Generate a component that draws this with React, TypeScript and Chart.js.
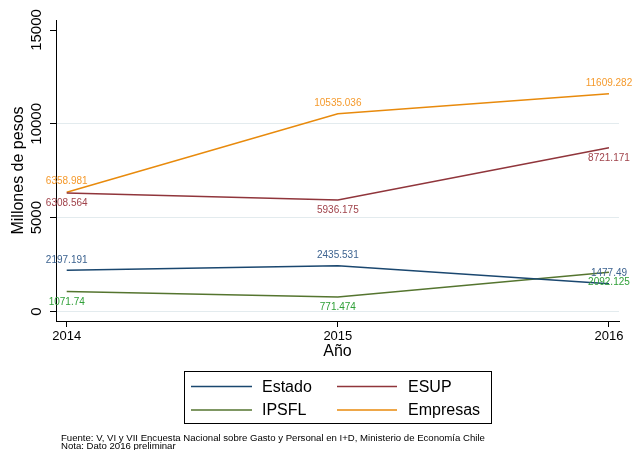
import React, { useEffect, useRef } from "react";
import { Chart, registerables } from "chart.js";

Chart.register(...registerables);

const years = [2014, 2015, 2016];
const estado = [2197.191, 2435.531, 1477.49];
const esup = [6308.564, 5936.175, 8721.171];
const ipsfl = [1071.74, 771.474, 2092.125];
const empresas = [6358.981, 10535.036, 11609.282];
const yTicks = [0, 5000, 10000, 15000];
const seriesNames = ["Estado", "ESUP", "IPSFL", "Empresas"];
const footerLines = [
  "Fuente: V, VI y VII Encuesta Nacional sobre Gasto y Personal en I+D, Ministerio de Economía Chile",
  "Nota: Dato 2016 preliminar",
];

const FONT = "'Liberation Sans', Arial, Helvetica, sans-serif";

const lineColors = ["#1a476f", "#90353b", "#55752f", "#e88a0c"];
const labelColors = ["#3d6390", "#a0434b", "#30a038", "#f59a2c"];
const labelPos = ["above", "below", "below", "above"];

export default function App() {
  const ref = useRef<HTMLCanvasElement | null>(null);

  useEffect(() => {
    if (!ref.current) return;
    const seriesData = [estado, esup, ipsfl, empresas];

    const overlay = {
      id: "overlay",
      afterDraw(chart: any) {
        const ctx = chart.ctx as CanvasRenderingContext2D;
        ctx.save();
        // y tick labels (rotated)
        const ys = chart.scales.y;
        ctx.font = `15px ${FONT}`;
        ctx.fillStyle = "#000";
        ctx.textAlign = "center";
        ctx.textBaseline = "middle";
        ys.ticks.forEach((t: any) => {
          const py = ys.getPixelForValue(t.value);
          ctx.save();
          ctx.translate(37, py);
          ctx.rotate(-Math.PI / 2);
          ctx.fillText(String(t.value), 0, 0);
          ctx.restore();
        });
        // data labels
        ctx.font = `10px ${FONT}`;
        chart.data.datasets.forEach((ds: any, i: number) => {
          const meta = chart.getDatasetMeta(i);
          ctx.fillStyle = labelColors[i];
          meta.data.forEach((pt: any, j: number) => {
            const off = labelPos[i] === "above" ? -10.5 : 10.5;
            ctx.fillText(String(ds.data[j].y), pt.x, pt.y + off);
          });
        });
        // legend
        ctx.strokeStyle = "#000";
        ctx.lineWidth = 1;
        ctx.strokeRect(184.5, 371.5, 307, 52);
        ctx.font = `16px ${FONT}`;
        ctx.textAlign = "left";
        const rowsY = [386.5, 410];
        const colLine = [
          [191, 252],
          [337, 397],
        ];
        const colText = [262, 408];
        chart.data.datasets.forEach((ds: any, i: number) => {
          const r = Math.floor(i / 2);
          const c = i % 2;
          ctx.strokeStyle = ds.borderColor;
          ctx.lineWidth = 1.5;
          ctx.beginPath();
          ctx.moveTo(colLine[c][0], rowsY[r]);
          ctx.lineTo(colLine[c][1], rowsY[r]);
          ctx.stroke();
          ctx.fillStyle = "#000";
          ctx.fillText(ds.label, colText[c], rowsY[r] + 1);
        });
        // footer
        ctx.font = `9.6px ${FONT}`;
        ctx.fillStyle = "#000";
        ctx.fillText(footerLines[0], 61, 438);
        ctx.fillText(footerLines[1], 61, 446.5);
        ctx.restore();
      },
    };

    const chart = new Chart(ref.current, {
      type: "line",
      data: {
        datasets: seriesData.map((arr, i) => ({
          label: seriesNames[i],
          data: arr.map((v, j) => ({ x: years[j], y: v })),
          borderColor: lineColors[i],
          backgroundColor: lineColors[i],
          borderWidth: 1.5,
          pointRadius: 0,
          tension: 0,
          fill: false,
        })),
      },
      options: {
        responsive: false,
        animation: false,
        events: [],
        layout: { padding: { left: 0, top: 20, right: 13, bottom: 89 } },
        plugins: {
          legend: { display: false },
          tooltip: { enabled: false },
        },
        scales: {
          x: {
            type: "linear",
            min: 2013.9605,
            max: 2016.037,
            afterBuildTicks: (s: any) => {
              s.ticks = years.map((v) => ({ value: v }));
            },
            afterFit: (s: any) => {
              s.height = 40;
            },
            ticks: {
              callback: (v: any) => String(v),
              font: { family: FONT, size: 13 },
              color: "#000",
              padding: 2,
              maxRotation: 0,
              autoSkip: false,
            },
            grid: {
              drawOnChartArea: false,
              drawTicks: true,
              tickLength: 6,
              tickColor: "#000",
              tickWidth: 1,
            },
            border: { display: true, color: "#000", width: 1 },
            title: {
              display: true,
              text: "Año",
              font: { family: FONT, size: 16 },
              color: "#000",
              padding: { top: 0, bottom: 0 },
            },
          },
          y: {
            type: "linear",
            min: -506,
            max: 15533,
            afterBuildTicks: (s: any) => {
              s.ticks = yTicks.map((v) => ({ value: v }));
            },
            afterFit: (s: any) => {
              s.width = 56;
            },
            ticks: { display: false },
            grid: {
              color: (c: any) =>
                c.tick && c.tick.value === 15000 ? "rgba(0,0,0,0)" : "#e3ebee",
              lineWidth: 1,
              drawTicks: true,
              tickLength: 6,
              tickColor: "#000",
              tickWidth: 1,
            },
            border: { display: true, color: "#000", width: 1 },
            title: {
              display: true,
              text: "Millones de pesos",
              font: { family: FONT, size: 16 },
              color: "#000",
              padding: { top: 9, bottom: 0 },
            },
          },
        },
      },
      plugins: [overlay],
    });
    return () => chart.destroy();
  }, []);

  return (
    <div style={{ position: "fixed", left: 0, top: 0, width: 632, height: 450, background: "#fff" }}>
      <canvas ref={ref} width={632} height={450} style={{ width: 632, height: 450, display: "block" }} />
    </div>
  );
}
